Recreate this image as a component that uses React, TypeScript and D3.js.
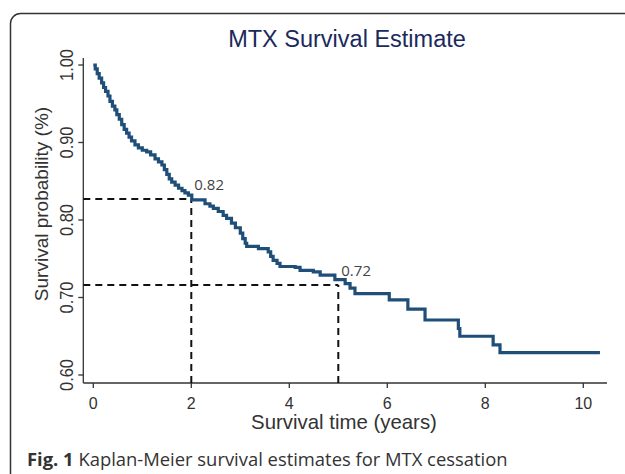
import { line as d3Line, curveStepAfter, scaleLinear } from "d3";

// Kaplan-Meier step points: time in years, survival after the drop
const times = [
  0, 0.04, 0.08, 0.12, 0.17, 0.21, 0.25, 0.3, 0.34, 0.39, 0.44, 0.48, 0.53,
  0.58, 0.63, 0.68, 0.73, 0.78, 0.85, 0.92, 1.0, 1.09, 1.17, 1.26, 1.33, 1.4,
  1.45, 1.5, 1.55, 1.6, 1.67, 1.74, 1.81, 1.87, 1.94, 2.01, 2.28, 2.38, 2.45,
  2.55, 2.65, 2.72, 2.82, 2.9, 3.0, 3.05, 3.1, 3.13, 3.37, 3.57, 3.62, 3.67,
  3.75, 3.81, 4.12, 4.22, 4.49, 4.63, 4.93, 5.14, 5.24, 5.34, 6.04, 6.42,
  6.77, 7.45, 7.48, 8.16, 8.3, 10.34,
];
const survival = [
  1.0, 0.995, 0.989, 0.983, 0.977, 0.971, 0.966, 0.96, 0.953, 0.947, 0.942,
  0.936, 0.93, 0.923, 0.917, 0.912, 0.907, 0.902, 0.897, 0.893, 0.89, 0.888,
  0.884, 0.879, 0.875, 0.871, 0.865, 0.859, 0.853, 0.849, 0.845, 0.841, 0.838,
  0.835, 0.832, 0.826, 0.821, 0.818, 0.815, 0.811, 0.806, 0.802, 0.796, 0.79,
  0.783, 0.776, 0.77, 0.766, 0.763, 0.759, 0.753, 0.748, 0.744, 0.74, 0.739,
  0.735, 0.733, 0.729, 0.723, 0.718, 0.712, 0.705, 0.697, 0.685, 0.671, 0.66,
  0.65, 0.639, 0.629, 0.629,
];

// reference markers (time, level drawn, label)
const markTimes = [2, 5];
const markLevels = [0.827, 0.716];
const markLabels = ["0.82", "0.72"];

const xTicks = [0, 2, 4, 6, 8, 10];
const yTicks = [0.6, 0.7, 0.8, 0.9, 1.0];

const W = 625;
const H = 474;

export default function App() {
  const x = scaleLinear().domain([0, 10]).range([93.3, 583.3]);
  const y = scaleLinear().domain([0.6, 1.0]).range([375, 65]);

  const axisLeft = 83.3;
  const axisBottom = 383;
  const axisRight = 607;
  const axisTop = 58;

  const data = times.map((t, i) => ({ t, s: survival[i] }));
  const path =
    d3Line<{ t: number; s: number }>()
      .x((d) => x(d.t))
      .y((d) => y(d.s))
      .curve(curveStepAfter)(data) ?? "";

  return (
    <svg
      width={W}
      height={H}
      style={{ position: "absolute", left: 0, top: 0, background: "#fff" }}
      fontFamily="'Liberation Sans', Arial, sans-serif"
    >
      {/* outer frame */}
      <rect
        x={10.5}
        y={13.5}
        width={640}
        height={470}
        rx={10}
        fill="none"
        stroke="#333"
        strokeWidth={1.5}
      />

      {/* title */}
      <text x={347} y={46.5} textAnchor="middle" fontSize={23.5} fill="#1b2a5c">
        MTX Survival Estimate
      </text>

      {/* axes */}
      <line x1={axisLeft} x2={axisLeft} y1={axisTop} y2={axisBottom} stroke="#333" strokeWidth={1.3} />
      <line x1={axisLeft} x2={axisRight} y1={axisBottom} y2={axisBottom} stroke="#333" strokeWidth={1.3} />

      {yTicks.map((v) => (
        <g key={v}>
          <line x1={axisLeft - 5} x2={axisLeft} y1={y(v)} y2={y(v)} stroke="#333" strokeWidth={1.3} />
          <text
            transform={`translate(72.5,${y(v)}) rotate(-90)`}
            textAnchor="middle"
            fontSize={18}
            textLength={32}
            lengthAdjust="spacingAndGlyphs"
            fill="#333"
          >
            {v.toFixed(2)}
          </text>
        </g>
      ))}

      {xTicks.map((v) => (
        <g key={v}>
          <line x1={x(v)} x2={x(v)} y1={axisBottom} y2={axisBottom + 5} stroke="#333" strokeWidth={1.3} />
          <text x={x(v)} y={409} textAnchor="middle" fontSize={16} fill="#333">
            {v}
          </text>
        </g>
      ))}

      <text x={344} y={428.5} textAnchor="middle" fontSize={20.4} fill="#333">
        Survival time (years)
      </text>
      <text
        transform="translate(48,204) rotate(-90)"
        textAnchor="middle"
        fontSize={19}
        fill="#333"
      >
        Survival probability (%)
      </text>

      {/* dashed reference lines */}
      {markTimes.map((t, i) => (
        <g key={t} stroke="#111" strokeWidth={2} strokeDasharray="7,5" fill="none">
          <line x1={axisLeft} x2={x(t)} y1={y(markLevels[i])} y2={y(markLevels[i])} />
          <line x1={x(t)} x2={x(t)} y1={axisBottom} y2={y(markLevels[i])} />
        </g>
      ))}

      {/* survival curve */}
      <path d={path} fill="none" stroke="#1f4e79" strokeWidth={3.2} strokeLinejoin="miter" />

      {markTimes.map((t, i) => (
        <text
          key={t}
          x={x(t) + 3}
          y={y(markLevels[i]) - 9.5}
          fontFamily="'Open Sans', sans-serif"
          fontSize={15}
          fill="#444"
        >
          {markLabels[i]}
        </text>
      ))}

      {/* caption */}
      <text x={27} y={466} fontFamily="'Open Sans', sans-serif" fontSize={18.4} fill="#333">
        <tspan fontWeight="bold">Fig. 1</tspan>
        <tspan> Kaplan-Meier survival estimates for MTX cessation</tspan>
      </text>
    </svg>
  );
}
